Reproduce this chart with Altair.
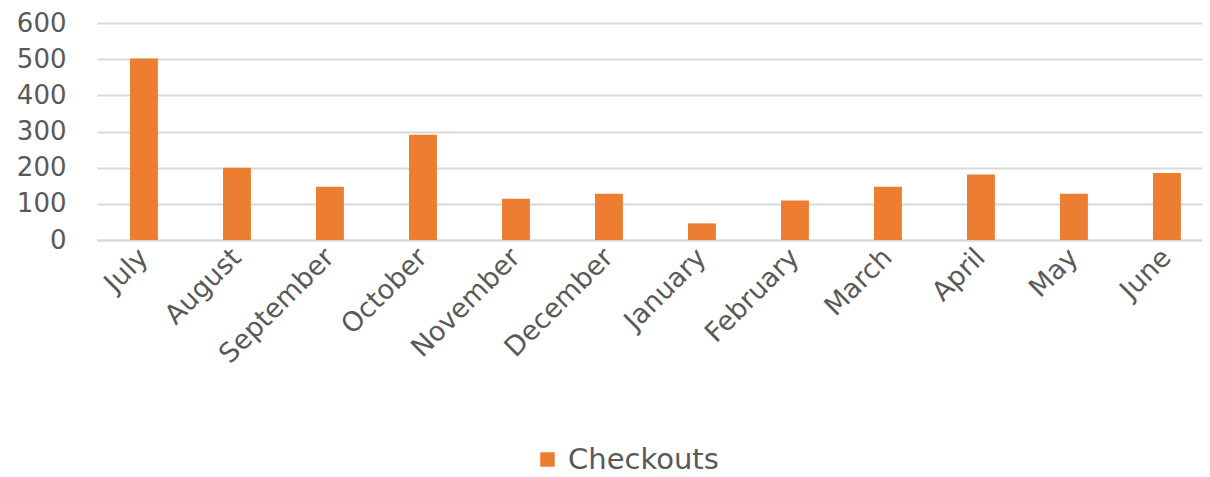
import altair as alt
import pandas as pd

months = ["July", "August", "September", "October", "November", "December",
          "January", "February", "March", "April", "May", "June"]
checkouts = [502, 200, 147, 291, 114, 128, 46, 109, 147, 181, 128, 185]
series = ["Checkouts"] * len(months)

df = pd.DataFrame({"Month": months, "Checkouts": checkouts, "Series": series})

FONT = "DejaVu Sans"
GRAY = "#595959"

chart = alt.Chart(df).mark_bar(color="#ED7D31").encode(
    x=alt.X("Month:N", sort=months,
            scale=alt.Scale(paddingInner=0.7, paddingOuter=0.291, align=0.61),
            axis=alt.Axis(title=None, labelAngle=-45, labelFontSize=27, labelFont=FONT,
                          labelColor=GRAY, ticks=False, domain=True, domainColor="#d9d9d9",
                          domainWidth=2, labelPadding=13, labelAlign="right",
                          labelBaseline="middle")),
    y=alt.Y("Checkouts:Q", scale=alt.Scale(domain=[0, 600], nice=False),
            axis=alt.Axis(title=None, values=[0, 100, 200, 300, 400, 500, 600],
                          labelFontSize=26, labelFont=FONT, labelColor=GRAY,
                          ticks=False, domain=False, gridColor="#d9d9d9", gridWidth=2,
                          labelPadding=31)),
    fill=alt.Fill("Series:N", scale=alt.Scale(range=["#ED7D31"]),
                  legend=alt.Legend(title=None, orient="none", legendX=436, legendY=422,
                                    symbolType="square", symbolSize=210,
                                    labelFontSize=29, labelFont=FONT, labelColor=GRAY,
                                    symbolStrokeWidth=0, labelOffset=6)),
).properties(
    width=1105, height=217,
    autosize=alt.AutoSizeParams(type="none"),
    padding={"left": 89, "top": 15, "right": 0, "bottom": 237},
).configure_view(stroke=None)

chart.save("out.html", embed_options={"renderer": "svg", "actions": False})
